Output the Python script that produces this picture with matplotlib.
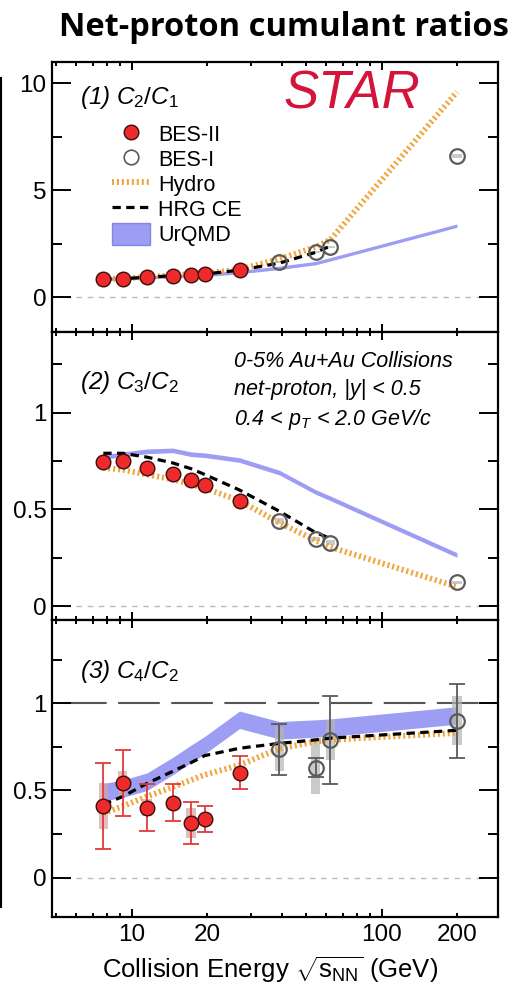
import matplotlib
matplotlib.use("Agg")
import matplotlib.pyplot as plt
from matplotlib.lines import Line2D
from matplotlib.patches import Patch
from matplotlib.ticker import FixedLocator, FixedFormatter, NullFormatter

plt.rcParams['font.family'] = ['Liberation Sans', 'DejaVu Sans']
plt.rcParams['mathtext.fontset'] = 'custom'
plt.rcParams['mathtext.rm'] = 'Liberation Sans'
plt.rcParams['mathtext.it'] = 'Liberation Sans:italic'
plt.rcParams['mathtext.bf'] = 'Liberation Sans:bold'

# collision energies (GeV)
energy_bes2 = [7.7, 9.2, 11.5, 14.6, 17.3, 19.6, 27]
energy_bes1 = [39, 54.4, 62.4, 200]
model_energy = [7.7, 9.2, 11.5, 14.6, 17.3, 19.6, 27, 39, 54.4, 62.4, 200]
hrg_energy = [7.7, 9.2, 11.5, 14.6, 17.3, 19.6, 27, 39, 54.4, 62.4]

# C2/C1
c21_bes2 = [0.86, 0.86, 0.94, 1.02, 1.03, 1.07, 1.28]
c21_bes1 = [1.64, 2.11, 2.34, 6.59]
c21_bes1_sys = [0.04, 0.05, 0.05, 0.1]
c21_hydro = [0.86, 0.88, 0.95, 1.03, 1.08, 1.12, 1.3, 1.8, 2.35, 2.7, 9.6]
c21_hrg = [0.86, 0.87, 0.94, 1.01, 1.05, 1.09, 1.27, 1.6, 2.1, 2.4]
c21_urqmd = [0.86, 0.89, 0.94, 0.99, 1.02, 1.05, 1.18, 1.38, 1.6, 1.78, 3.35]
c21_urqmd_err = 0.08

# C3/C2
c32_bes2 = [0.747, 0.752, 0.716, 0.681, 0.652, 0.626, 0.545]
c32_bes1 = [0.441, 0.347, 0.328, 0.122]
c32_bes1_sys = [0.015, 0.012, 0.012, 0.01]
c32_hydro = [0.715, 0.705, 0.68, 0.655, 0.63, 0.61, 0.545, 0.43, 0.34, 0.305, 0.10]
c32_hrg = [0.79, 0.79, 0.77, 0.74, 0.71, 0.68, 0.60, 0.49, 0.38, 0.35]
c32_urqmd = [0.77, 0.785, 0.80, 0.805, 0.785, 0.78, 0.755, 0.69, 0.59, 0.557, 0.264]
c32_urqmd_err = 0.012

# C4/C2
c42_bes2 = [0.411, 0.541, 0.402, 0.43, 0.312, 0.337, 0.602]
c42_bes2_stat = [0.245, 0.19, 0.135, 0.106, 0.12, 0.073, 0.094]
c42_bes2_sys = [0.13, 0.07, 0.05, 0.03, 0.085, 0.02, 0.02]
c42_bes1 = [0.736, 0.631, 0.79, 0.899]
c42_bes1_stat = [0.146, 0.055, 0.25, 0.21]
c42_bes1_sys = [0.125, 0.15, 0.115, 0.14]
c42_hydro = [0.37, 0.41, 0.465, 0.52, 0.56, 0.59, 0.646, 0.74, 0.78, 0.79, 0.83]
c42_hrg = [0.42, 0.465, 0.54, 0.61, 0.66, 0.70, 0.742, 0.77, 0.79, 0.80, 0.845]
c42_urqmd = [0.49, 0.51, 0.55, 0.64, 0.71, 0.76, 0.905, 0.845, 0.855, 0.86, 0.93]
c42_urqmd_err = 0.05

RED = '#ee2a2a'
RED_EDGE = '#3a0c0c'
GRAY = '#5a5a5a'
ORANGE = '#f2a43a'
BLUE = '#8c8cf2'
BOX_F = 1.045

W, H = 526, 993
fig = plt.figure(figsize=(W / 100, H / 100), dpi=100)


def px_axes(top, bottom):
    return fig.add_axes([52 / W, 1 - bottom / H, 446 / W, (bottom - top) / H])


def sys_boxes(ax, x, y, err, color, alpha):
    for xi, yi, ei in zip(x, y, err):
        ax.bar(xi / BOX_F, 2 * ei, width=xi * BOX_F - xi / BOX_F, bottom=yi - ei,
               align='edge', color=color, alpha=alpha, lw=0, zorder=2)


def draw_panel(ax, hydro, hrg, urqmd, urqmd_err, bes2, bes1, bes1_sys,
               bes2_stat=None, bes2_sys=None, bes1_stat=None, hrg_x=model_energy):
    lo = [v - urqmd_err for v in urqmd]
    hi = [v + urqmd_err for v in urqmd]
    ax.fill_between(model_energy, lo, hi, color=BLUE, alpha=0.85, lw=0, zorder=1)
    ax.axhline(0, color='#bbbbbb', lw=1, ls=(0, (4, 4)), zorder=0, xmin=0.03, xmax=0.97)
    if bes2_sys is not None:
        sys_boxes(ax, energy_bes2, bes2, bes2_sys, '#d8a2a2', 0.7)
    sys_boxes(ax, energy_bes1, bes1, bes1_sys, '#b4b4b4', 0.7)
    ax.plot(model_energy, hydro, color=ORANGE, lw=4.2, ls=(0, (0.35, 0.5)), zorder=3)
    ax.plot(hrg_x, hrg, color='black', lw=2.3, ls=(0, (2.6, 1.7)), zorder=4)
    if bes2_stat is not None:
        ax.errorbar(energy_bes2, bes2, yerr=bes2_stat, fmt='none', ecolor='#e23a3a',
                    elinewidth=1.3, capsize=5.5, capthick=1.3, zorder=5)
        ax.errorbar(energy_bes1, bes1, yerr=bes1_stat, fmt='none', ecolor=GRAY,
                    elinewidth=1.3, capsize=5.5, capthick=1.3, zorder=5)
    ax.plot(energy_bes2, bes2, 'o', ms=10.5, mfc=RED, mec=RED_EDGE, mew=1.0, zorder=6)
    ax.plot(energy_bes1, bes1, 'o', ms=10.5, mfc='none', mec=GRAY, mew=1.6, zorder=6)


def style_axes(ax, ylim, major, minor, labels, bottom=False):
    ax.set_xscale('log')
    ax.set_xlim(4.8, 292)
    ax.set_ylim(*ylim)
    ax.xaxis.set_major_locator(FixedLocator([10, 100]))
    ax.xaxis.set_minor_locator(FixedLocator([5, 6, 7, 8, 9, 20, 30, 40, 50, 60, 70, 80, 90, 200]))
    if bottom:
        ax.xaxis.set_major_formatter(FixedFormatter(['10', '100']))
        ax.xaxis.set_minor_formatter(FixedFormatter(['', '', '', '', '', '20', '', '', '', '', '', '', '', '200']))
    else:
        ax.xaxis.set_major_formatter(NullFormatter())
        ax.xaxis.set_minor_formatter(NullFormatter())
    ax.yaxis.set_major_locator(FixedLocator(major))
    ax.yaxis.set_major_formatter(FixedFormatter(labels))
    ax.yaxis.set_minor_locator(FixedLocator(minor))
    ax.tick_params(axis='both', which='both', direction='in', top=True, right=True,
                   labelsize=17.5, width=1.4, colors='black')
    ax.tick_params(axis='y', which='major', length=14, pad=4)
    ax.tick_params(axis='y', which='minor', length=7)
    ax.tick_params(axis='x', which='major', length=5.5, pad=5)
    ax.tick_params(axis='x', which='minor', length=3, pad=5)
    for s in ax.spines.values():
        s.set_linewidth(1.6)


ax1 = px_axes(62, 332)
ax2 = px_axes(332, 620)
ax3 = px_axes(620, 917)

draw_panel(ax1, c21_hydro, c21_hrg, c21_urqmd, c21_urqmd_err, c21_bes2, c21_bes1,
           c21_bes1_sys, hrg_x=hrg_energy)
draw_panel(ax2, c32_hydro, c32_hrg, c32_urqmd, c32_urqmd_err, c32_bes2, c32_bes1,
           c32_bes1_sys, hrg_x=hrg_energy)
ax3.axhline(1, color='#555555', lw=1.5, ls=(0, (20, 5.5)), zorder=0, xmin=0.03)
draw_panel(ax3, c42_hydro, c42_hrg, c42_urqmd, c42_urqmd_err, c42_bes2, c42_bes1,
           c42_bes1_sys, bes2_stat=c42_bes2_stat, bes2_sys=c42_bes2_sys,
           bes1_stat=c42_bes1_stat)

style_axes(ax1, (-1.62, 11.0), [0, 5, 10], [2.5, 7.5], ['0', '5', '10'])
style_axes(ax2, (-0.072, 1.417), [0, 0.5, 1], [0.25, 0.75, 1.25], ['0', '0.5', '1'])
style_axes(ax3, (-0.225, 1.477), [0, 0.5, 1], [0.25, 0.75, 1.25], ['0', '0.5', '1'], bottom=True)

# panel labels
ax1.text(0.063, 0.868, r'(1) $C_{\mathit{2}}\mathit{/}C_{\mathit{1}}$', transform=ax1.transAxes,
         fontsize=17.5, style='italic', va='center')
ax2.text(0.063, 0.826, r'(2) $C_{\mathit{3}}\mathit{/}C_{\mathit{2}}$', transform=ax2.transAxes,
         fontsize=17.5, style='italic', va='center')
ax3.text(0.063, 0.825, r'(3) $C_{\mathit{4}}\mathit{/}C_{\mathit{2}}$', transform=ax3.transAxes,
         fontsize=17.5, style='italic', va='center')

ax1.text(0.673, 0.878, 'STAR', transform=ax1.transAxes, fontsize=38, style='italic',
         color='#d3143c', ha='center', va='center')

for yy, s in zip([0.898, 0.801, 0.697],
                 ['0-5% Au+Au Collisions', 'net-proton, |y| < 0.5',
                  r'0.4 < $p_{\mathit{T}}$ < 2.0 GeV/c']):
    ax2.text(0.408, yy, s, transform=ax2.transAxes, fontsize=15.5, style='italic', va='center')

handles = [
    Line2D([], [], ls='none', marker='o', ms=10.5, mfc=RED, mec=RED_EDGE, mew=1.0),
    Line2D([], [], ls='none', marker='o', ms=10.5, mfc='none', mec=GRAY, mew=1.2),
    Line2D([], [], color=ORANGE, lw=4.2, ls=(0, (0.35, 0.5))),
    Line2D([], [], color='black', lw=2.3, ls=(0, (2.6, 1.7))),
    Patch(facecolor=BLUE, edgecolor='#7878e8', alpha=0.85),
]
ax1.legend(handles, ['BES-II', 'BES-I', 'Hydro', 'HRG CE', 'UrQMD'],
           loc='upper left', bbox_to_anchor=(0.135, 0.775), frameon=False, fontsize=15.5,
           handlelength=1.75, handleheight=1.15, handletextpad=0.4, labelspacing=0.1,
           borderpad=0, borderaxespad=0)

fig.text(0.54, 0.972, 'Net-proton cumulant ratios', fontsize=23.5, weight='bold',
         family=['Open Sans', 'DejaVu Sans'], ha='center', va='center')
fig.text(0.513, 0.023, r'Collision Energy $\sqrt{\mathrm{s}_{\mathrm{NN}}}$ (GeV)', fontsize=18.5,
         ha='center', va='center')

fig.add_artist(Line2D([0.002, 0.002], [1 - 78 / H, 1 - 907 / H], color='black', lw=1.5))

fig.savefig('out.png', dpi=100)
